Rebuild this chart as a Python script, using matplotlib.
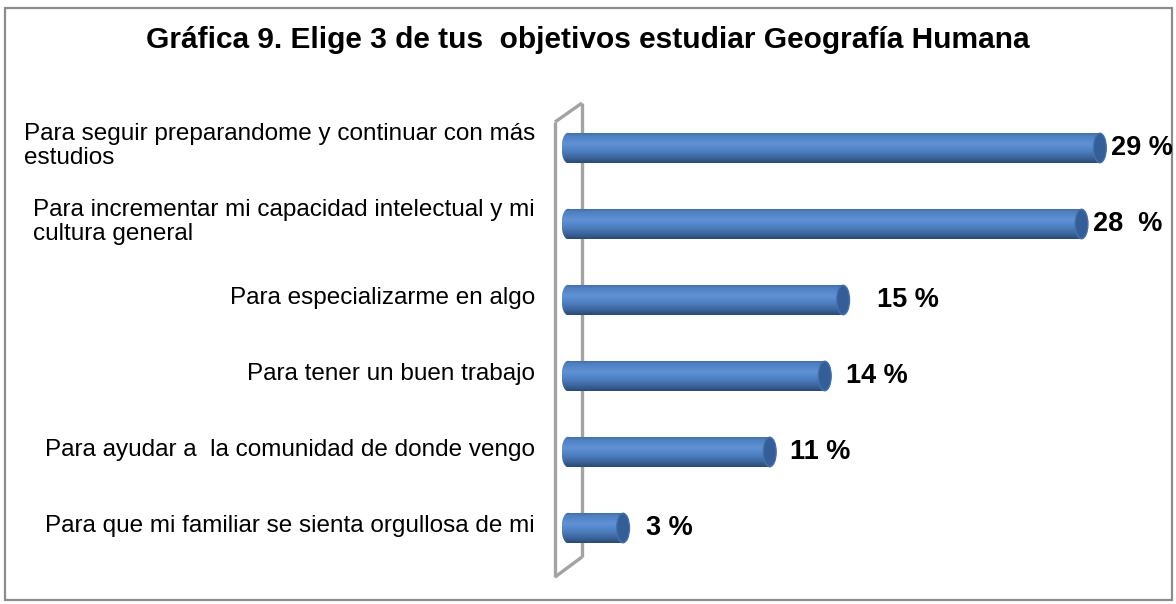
#!/usr/bin/env python3
"""Gráfica 9: 3-D style horizontal cylinder bars with percentage labels."""

import matplotlib

matplotlib.use("Agg")
import matplotlib.pyplot as plt
from matplotlib.colors import LinearSegmentedColormap
from matplotlib.lines import Line2D
from matplotlib.patches import Ellipse, Rectangle
import numpy as np

plt.rcParams["font.family"] = ["Liberation Sans", "DejaVu Sans"]

TITLE = "Gráfica 9. Elige 3 de tus  objetivos estudiar Geografía Humana"
CATEGORIES = [
    "Para seguir preparandome y continuar con más\nestudios",
    "Para incrementar mi capacidad intelectual y mi\ncultura general",
    "Para especializarme en algo",
    "Para tener un buen trabajo",
    "Para ayudar a  la comunidad de donde vengo",
    "Para que mi familiar se sienta orgullosa de mi",
]
VALUES = [29, 28, 15, 14, 11, 3]
VALUE_LABELS = ["29 %", "28  %", "15 %", "14 %", "11 %", "3 %"]
LABEL_PAD = [5, 5, 27, 15, 14, 17]  # px gap between bar end and value text

W, H = 1176, 604
X0 = 568            # pixel position of value 0
PX_PER_UNIT = 18.34
BAR_H = 0.40
CAP_W = 0.7

cyl = LinearSegmentedColormap.from_list(
    "cyl",
    [(0.0, "#3D6BA7"), (0.12, "#4F80C1"), (0.38, "#5F92D5"),
     (0.62, "#4D7FC0"), (0.85, "#3A6399"), (1.0, "#2A4A74")],
)
grad = np.linspace(0, 1, 64).reshape(-1, 1)

fig = plt.figure(figsize=(W / 100, H / 100), dpi=100, facecolor="white")

# background layer in pixel coordinates: frame and the 3-D wall
bg = fig.add_axes([0, 0, 1, 1], zorder=-1)
bg.set_xlim(0, W)
bg.set_ylim(H, 0)
bg.axis("off")
bg.add_patch(Rectangle((5, 8), 1167, 592, fill=False, edgecolor="#8C8C8C", linewidth=1.6))
wall = dict(color="#A3A3A3", linewidth=2.4, solid_capstyle="butt")
bg.add_line(Line2D([555, 555], [122, 577], **wall))
bg.add_line(Line2D([582, 582], [103, 557], **wall))
bg.add_line(Line2D([555, 582], [122, 103], **wall))
bg.add_line(Line2D([555, 582], [577, 557], **wall))

fig.text(588 / W, 1 - 40 / H, TITLE, ha="center", va="center",
         fontsize=21.5, fontweight="bold", color="black")

# bar axes
ax_left, ax_right = 555, 1172
ax_top, ax_bot = 110, 566
ax = fig.add_axes([ax_left / W, 1 - ax_bot / H, (ax_right - ax_left) / W, (ax_bot - ax_top) / H])
ax.patch.set_alpha(0)
y = np.arange(len(VALUES))

bars = ax.barh(y, VALUES, height=BAR_H, color="#4F81BD", linewidth=0)
for bar, v, yi in zip(bars, VALUES, y):
    top, bottom = yi - BAR_H / 2, yi + BAR_H / 2
    im = ax.imshow(grad, cmap=cyl, extent=(0, v, bottom, top), origin="upper",
                   aspect="auto", interpolation="bilinear", zorder=3)
    im.set_clip_path(bar)
    left_end = Ellipse((0, yi), CAP_W, BAR_H, facecolor="none", edgecolor="none")
    ax.add_patch(left_end)
    im2 = ax.imshow(grad, cmap=cyl, extent=(-CAP_W / 2, 0.01, bottom, top), origin="upper",
                    aspect="auto", interpolation="bilinear", zorder=3)
    im2.set_clip_path(left_end)
    ax.add_patch(Ellipse((v, yi), CAP_W, BAR_H * 0.97, facecolor="#345E97",
                         edgecolor="#4471AC", linewidth=1.0, zorder=4))

for yi, v, txt, pad in zip(y, VALUES, VALUE_LABELS, LABEL_PAD):
    ax.annotate(txt, xy=(v + CAP_W / 2, yi), xytext=(pad, 0), textcoords="offset pixels",
                ha="left", va="center", fontsize=19.5, fontweight="bold", color="black")

for yi, cat in zip(y, CATEGORIES):
    ax.annotate(cat, xy=(555, yi), xycoords=(bg.transData, "data"),
                xytext=(-20, 2), textcoords="offset pixels",
                ha="right", va="center", multialignment="left",
                fontsize=17.5, color="black", linespacing=1.1)

ax.set_xlim((ax_left - X0) / PX_PER_UNIT, (ax_right - X0) / PX_PER_UNIT)
ax.set_ylim(len(VALUES) - 0.5, -0.5)
ax.axis("off")

fig.savefig("out.png", dpi=100, facecolor="white")
